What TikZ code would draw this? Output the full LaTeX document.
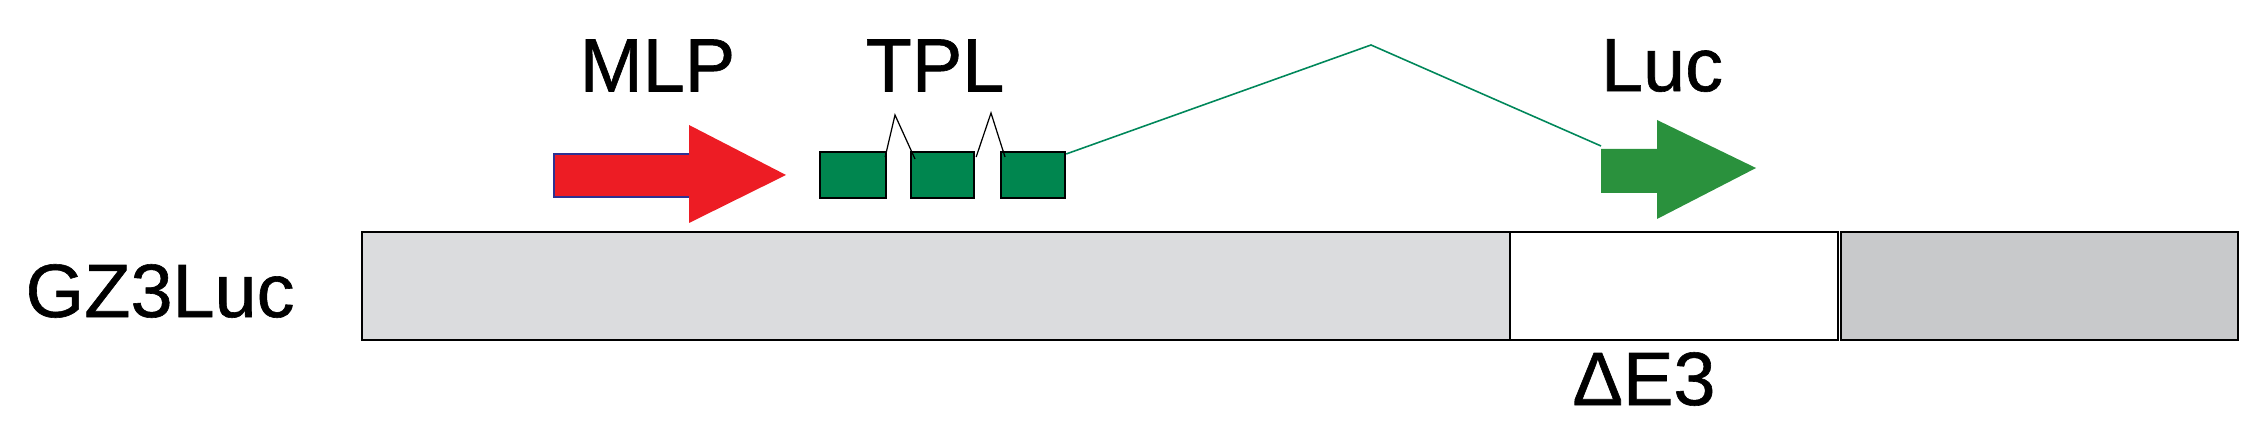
\documentclass[tikz,border=0pt]{standalone}
\usepackage{fontspec}
\setmainfont{Liberation Sans}
\newfontfamily\lblfont{Liberation Sans}[FakeBold=0.8]
\usetikzlibrary{calc}
\definecolor{mlpred}{HTML}{ED1C24}
\definecolor{mlpblue}{HTML}{2E3192}
\definecolor{tplgreen}{HTML}{00864F}
\definecolor{lucgreen}{HTML}{2A913D}
\definecolor{linegreen}{HTML}{00875A}
\definecolor{grayA}{HTML}{DBDCDE}
\definecolor{grayB}{HTML}{C8C9CB}
\tikzset{
  lbl/.style={inner sep=0pt, font=\lblfont\fontsize{21.5}{24}\selectfont},
  tplbox/.style={draw=black, line width=0.6pt, fill=tplgreen, inner sep=0pt, minimum width=0.64cm, minimum height=0.46cm},
  barpart/.style={draw=black, line width=0.6pt},
  splice/.style={draw=black, line width=0.35pt},
  bigsplice/.style={draw=linegreen, line width=0.45pt}
}
\begin{document}
\begin{tikzpicture}[x=0.01cm,y=-0.01cm]
\useasboundingbox (0,0) rectangle (2254,428);
% bar
\node[barpart, fill=grayA, inner sep=0pt, minimum width=11.48cm, minimum height=1.08cm, anchor=north west] (barA) at (361,231) {};
\node[barpart, fill=white, inner sep=0pt, minimum width=3.28cm, minimum height=1.08cm, anchor=north west] (barB) at (1509,231) {};
\node[barpart, fill=grayB, inner sep=0pt, minimum width=3.97cm, minimum height=1.08cm, anchor=north west] (barC) at (1840,231) {};
% labels
\node[lbl] (mlp) at (657.5,65.5) {MLP};
\node[lbl] (tpl) at (935,65.5) {TPL};
\node[lbl] (luc) at (1662,65.5) {Luc};
\node[lbl] (gz) at (160,291) {GZ3Luc};
\node[lbl] (de) at (1644,379) {ΔE3};
% red arrow
\fill[mlpred] (554,154) -- (689,154) -- (689,125) -- (786,175) -- (689,223) -- (689,197) -- (554,197) -- cycle;
\draw[mlpblue, line width=0.35pt] (689,154) -- (554,154) -- (554,197) -- (689,197);
% TPL boxes
\node[tplbox, minimum width=0.66cm, anchor=north west] (b1) at (819,151) {};
\node[tplbox, minimum width=0.63cm, anchor=north west] (b2) at (910,151) {};
\node[tplbox, minimum width=0.64cm, anchor=north west] (b3) at (1000,151) {};
% green arrow
\fill[lucgreen] (1601,149) -- (1657,149) -- (1657,120) -- (1756,168) -- (1657,219) -- (1657,193) -- (1601,193) -- cycle;
\coordinate (lucstart) at (1601,146);
% splice lines
\coordinate (p1) at (895,115);
\coordinate (p2) at (991,113);
\coordinate (p3) at (1371,45);
\draw[splice] ($(b1.north east)+(-2,6)$) -- (p1) -- ($(b2.north west)+(5,8)$);
\draw[splice] ($(b2.north east)+(1,6)$) -- (p2) -- ($(b3.north west)+(5,6)$);
\draw[bigsplice] ($(b3.north east)+(0,3)$) -- (p3) -- (lucstart);
\end{tikzpicture}
\end{document}
